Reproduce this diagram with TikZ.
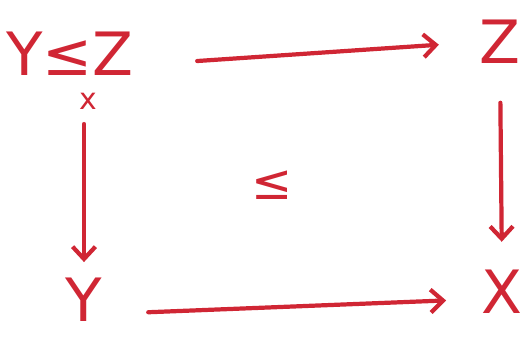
\documentclass[tikz,border=0pt]{standalone}
\usepackage{fontspec}
\setmainfont{DejaVu Sans}
\usepackage{tikz}
\usetikzlibrary{arrows.meta}
\definecolor{RojoMarcador}{RGB}{208,38,52}

\begin{document}
\begin{tikzpicture}[x=0.02cm,y=-0.02cm,>={Straight Barb[length=7pt,width=13pt,line width=2.4pt]},
  etiqueta/.style={text=RojoMarcador,font=\fontsize{34}{38}\selectfont,inner sep=0pt},
  flecha/.style={->,line width=2.4pt,RojoMarcador,line cap=round}]
  \useasboundingbox (0,0) rectangle (524,338);

  \node[etiqueta,anchor=base] (YZ) at (70,75)
    {Y≤\llap{\raisebox{-0.58em}{\fontsize{17}{17}\selectfont x}\kern-0.08em}Z};
  \node[etiqueta] (Z) at (500,42) {Z};
  \node[etiqueta] (Y) at (84,300) {Y};
  \node[etiqueta] (X) at (502,292) {X};
  \node[etiqueta,font=\fontsize{28}{30}\selectfont] (le) at (272,185) {≤};

  \draw[flecha,shorten <=36pt,shorten >=23pt] ([yshift=3pt]YZ.east) -- (Z.west);
  \draw[flecha,shorten <=8pt,shorten >=9pt] (YZ.south -| Y) -- (Y.north);
  \draw[flecha,shorten <=22pt,shorten >=16pt] (Z.south) -- (X.north);
  \draw[flecha,shorten <=26pt,shorten >=20pt] ([yshift=-8pt]Y.east) -- ([yshift=-4pt]X.west);
\end{tikzpicture}
\end{document}
